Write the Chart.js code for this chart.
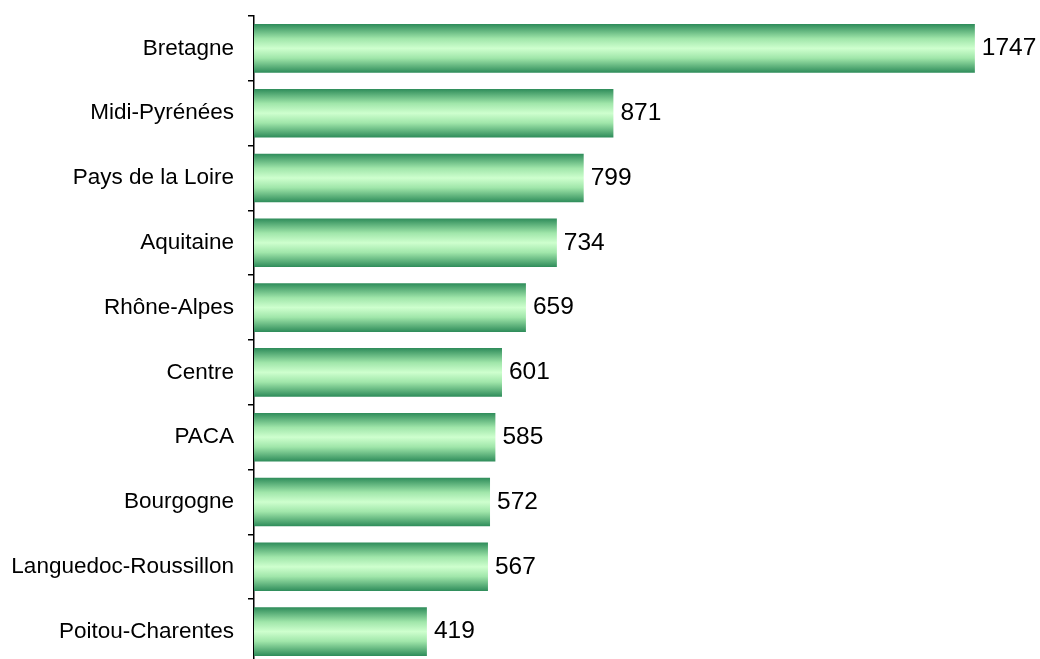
<!DOCTYPE html>
<html>
<head>
<meta charset="utf-8">
<script src="https://cdn.jsdelivr.net/npm/chart.js@4/dist/chart.umd.min.js"></script>
<style>
  html, body { margin: 0; padding: 0; background: #fff; overflow: hidden; }
  canvas { display: block; }
</style>
</head>
<body>
<canvas id="regionChart" width="1040" height="664"></canvas>
<script>
const regions = ['Bretagne', 'Midi-Pyrénées', 'Pays de la Loire', 'Aquitaine', 'Rhône-Alpes',
  'Centre', 'PACA', 'Bourgogne', 'Languedoc-Roussillon', 'Poitou-Charentes'];
const counts = [1747, 871, 799, 734, 659, 601, 585, 572, 567, 419];

const barPct = 0.75;

// vertical gradient for each bar: dark edges, light middle
function barGradient(context) {
  const chart = context.chart;
  const yScale = chart.scales.y;
  if (!yScale || context.dataIndex === undefined) return '#7fd39a';
  const step = yScale.height / regions.length;
  const mid = yScale.getPixelForValue(context.dataIndex);
  const half = step * barPct / 2;
  if (!isFinite(mid) || !isFinite(half) || half <= 0) return '#7fd39a';
  const g = chart.ctx.createLinearGradient(0, mid - half, 0, mid + half);
  g.addColorStop(0, 'rgb(46,140,90)');
  g.addColorStop(0.3, 'rgb(160,230,170)');
  g.addColorStop(0.5, 'rgb(206,255,206)');
  g.addColorStop(0.7, 'rgb(160,230,170)');
  g.addColorStop(1, 'rgb(46,140,90)');
  return g;
}

const valueLabels = {
  id: 'valueLabels',
  afterDatasetsDraw(chart) {
    const ctx = chart.ctx;
    const meta = chart.getDatasetMeta(0);
    ctx.save();
    ctx.font = '24.5px "Liberation Sans", Arial, sans-serif';
    ctx.fillStyle = '#000';
    ctx.textAlign = 'left';
    ctx.textBaseline = 'middle';
    meta.data.forEach((bar, i) => {
      ctx.fillText(String(counts[i]), bar.x + 7, bar.y);
    });
    ctx.restore();
  }
};

const ctx = document.getElementById('regionChart').getContext('2d');
const chart = new Chart(ctx, {
  type: 'bar',
  data: {
    labels: regions,
    datasets: [{
      data: counts,
      backgroundColor: barGradient,
      borderWidth: 0,
      barPercentage: barPct,
      categoryPercentage: 1
    }]
  },
  options: {
    indexAxis: 'y',
    responsive: false,
    animation: false,
    layout: { padding: { top: 16, right: 2, bottom: 0, left: 0 } },
    plugins: {
      legend: { display: false },
      tooltip: { enabled: false }
    },
    scales: {
      x: {
        display: false,
        min: 0,
        max: 1900
      },
      y: {
        afterFit(scale) {
          scale.width = 254;
          scale.paddingTop = 0;
          scale.paddingBottom = 0;
        },
        border: { display: true, color: '#000', width: 1.5 },
        grid: {
          offset: true,
          drawOnChartArea: false,
          drawTicks: true,
          tickLength: 6,
          color: '#000',
          lineWidth: 1.5
        },
        ticks: {
          color: '#000',
          padding: 14,
          font: { family: '"Liberation Sans", Arial, sans-serif', size: 22.5 }
        }
      }
    }
  },
  plugins: [valueLabels]
});
</script>
</body>
</html>
